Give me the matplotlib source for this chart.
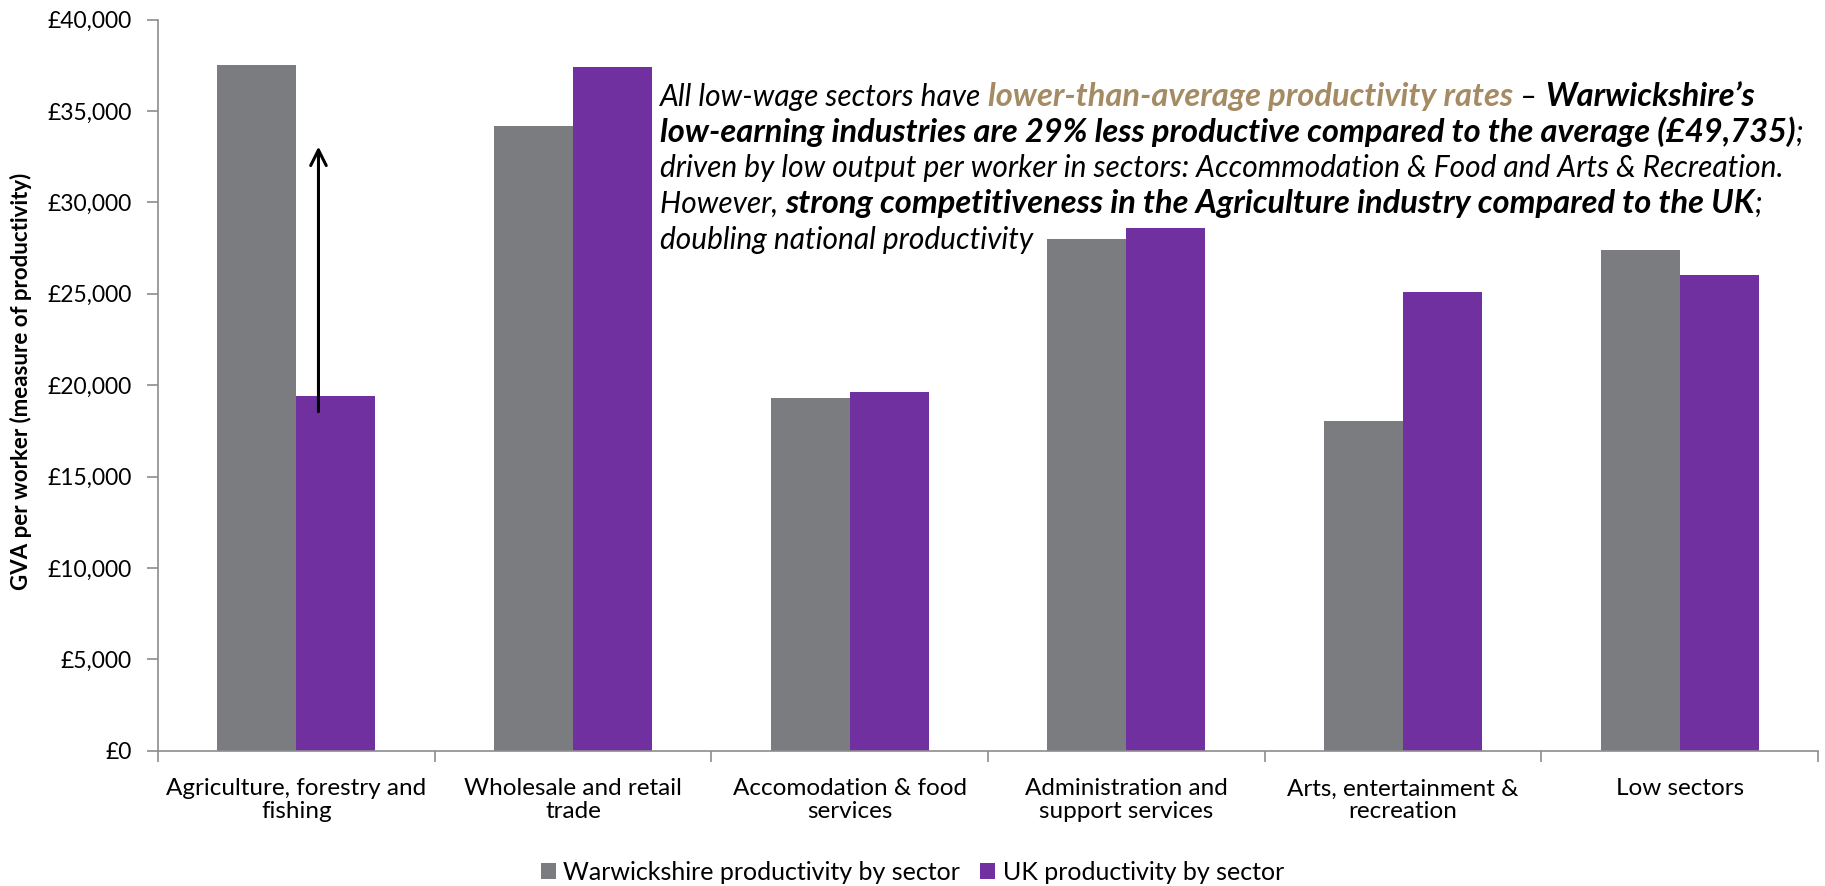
import matplotlib
matplotlib.use("Agg")
import matplotlib.pyplot as plt
import numpy as np
from matplotlib.ticker import FuncFormatter, FixedLocator

plt.rcParams["font.family"] = ["Lato", "DejaVu Sans"]

categories = ["Agriculture, forestry and\nfishing", "Wholesale and retail\ntrade",
              "Accomodation & food\nservices", "Administration and\nsupport services",
              "Arts, entertainment &\nrecreation", "Low sectors"]
warwickshire = [37500, 34200, 19300, 28000, 18050, 27400]
uk = [19400, 37400, 19600, 28600, 25100, 26000]
series_names = ["Warwickshire productivity by sector", "UK productivity by sector"]

# annotation lines: (text, bold, colour)
note_lines = [
    [("All low-wage sectors have ", False, "black"),
     ("lower-than-average productivity rates", True, "#A48B63"),
     (" \u2013 ", False, "black"),
     ("Warwickshire\u2019s", True, "black")],
    [("low-earning industries are 29% less productive compared to the average (\u00a349,735)", True, "black"),
     (";", False, "black")],
    [("driven by low output per worker in sectors: Accommodation & Food and Arts & Recreation.", False, "black")],
    [("However, ", False, "black"),
     ("strong competitiveness in the Agriculture industry compared to the UK", True, "black"),
     (";", False, "black")],
    [("doubling national productivity", False, "black")],
]

GREY = "#7B7C80"
PURPLE = "#7030A0"
AXC = "#8C8C8C"

W, H = 1825, 886
fig = plt.figure(figsize=(W / 100, H / 100), dpi=100)
ax = fig.add_axes([158 / W, 1 - 750.7 / H, (1818 - 158) / W, (750.7 - 19.5) / H])

x = np.arange(len(categories))
bw = 0.285
ax.bar(x - bw / 2, warwickshire, bw, color=GREY, label=series_names[0])
ax.bar(x + bw / 2, uk, bw, color=PURPLE, label=series_names[1])

ax.set_xlim(-0.5, len(categories) - 0.5)
ax.set_ylim(0, 40000)
ax.set_yticks(np.arange(0, 40001, 5000))
ax.yaxis.set_major_formatter(FuncFormatter(lambda v, p: f"\u00a3{int(v):,}"))
ax.set_xticks(x)
ax.set_xticklabels(categories, fontsize=17.5, linespacing=1.1)
ax.xaxis.set_minor_locator(FixedLocator(np.arange(-0.5, len(categories), 1.0)))
ax.tick_params(axis="x", which="major", length=0, pad=20)
ax.tick_params(axis="x", which="minor", length=8, color=AXC, width=1.2)
ax.tick_params(axis="y", length=8, color=AXC, width=1.2, labelsize=16.5, pad=11)

for s in ["top", "right"]:
    ax.spines[s].set_visible(False)
for s in ["left", "bottom"]:
    ax.spines[s].set_color(AXC)
    ax.spines[s].set_linewidth(1.2)

fig.text(21 / W, 1 - 381 / H, "GVA per worker (measure of productivity)", rotation=90,
         ha="center", va="center", fontsize=16, fontweight="bold")

ax.annotate("", xy=(0.08, 33200), xytext=(0.08, 18400),
            arrowprops=dict(arrowstyle="->", color="black", lw=2.2, mutation_scale=28))

leg = fig.legend(loc="center", bbox_to_anchor=(0.5, 1 - 872 / H), ncol=2, frameon=False,
                 fontsize=18, handlelength=0.6, handleheight=0.6, handletextpad=0.3,
                 columnspacing=0.8)

# rich annotation text: pieces laid out left to right on a shared baseline
renderer = fig.canvas.get_renderer()
baselines = [106, 142, 177, 213, 249]
for by, pieces in zip(baselines, note_lines):
    xpos = 660
    for txt, bold, col in pieces:
        t = fig.text(xpos / W, 1 - by / H, txt, ha="left", va="baseline",
                     fontsize=23.5 if bold else 21.5, style="italic", color=col,
                     fontweight="bold" if bold else "normal")
        xpos = t.get_window_extent(renderer).x1

fig.savefig("out.png", dpi=100)
